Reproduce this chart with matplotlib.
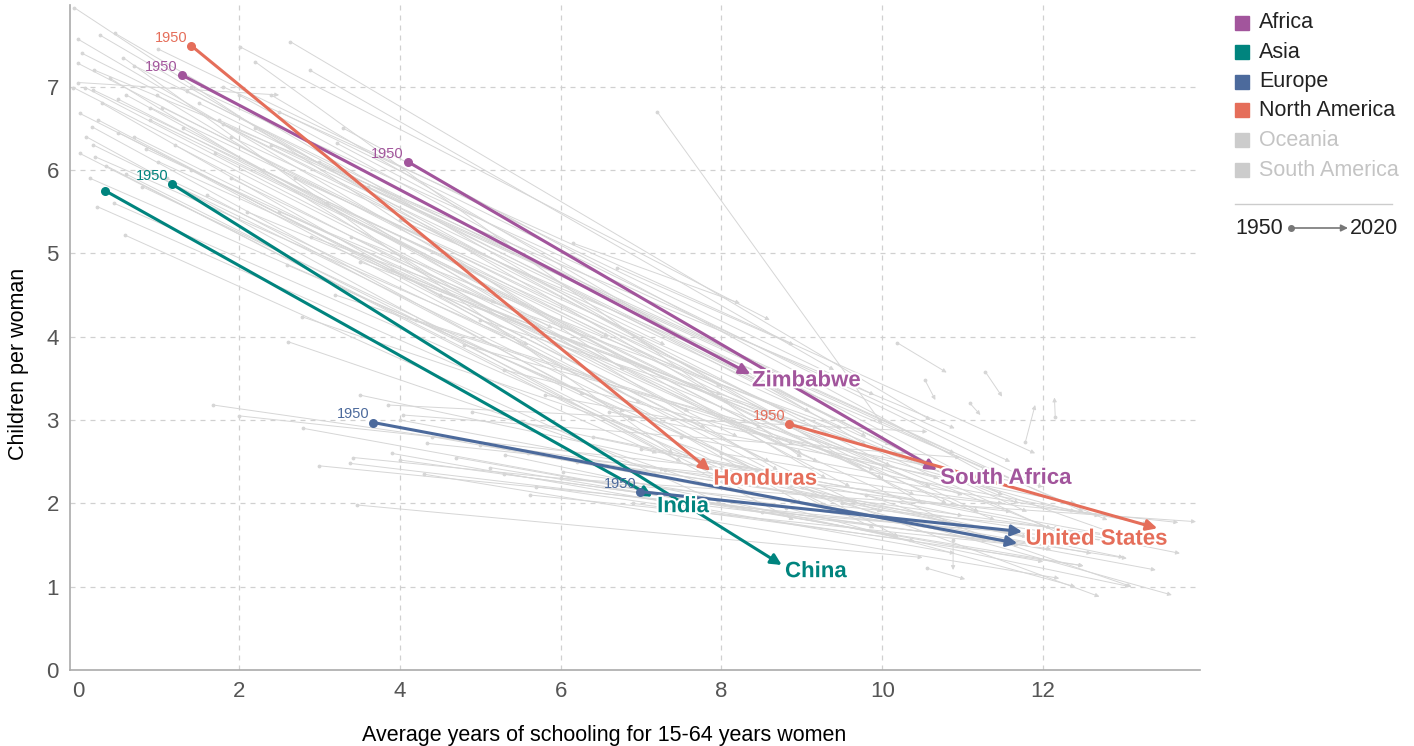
import matplotlib.pyplot as plt
import matplotlib.patheffects as pe
from matplotlib.patches import Rectangle

plt.rcParams['font.family'] = ['Liberation Sans', 'DejaVu Sans']

# background countries: 1950 (x0, y0) -> 2020 (x1, y1)
gray_x0 = [-0.05, 0.0, 0.27, 0.46, 0.56, 0.0, -0.06, 0.09, 0.19, 0.98,
           0.02, 0.25, 0.17, 0.02, 0.19, 0.21, 0.24, 0.58, 2.01, 2.64,
           2.88, 3.22, 2.6, 2.78, 2.61, 1.68, 3.42, 3.38, 7.2, 1.3,
           1.0, 1.5, 0.7, 1.9, 2.3, 1.1, 0.8, 1.6, 2.1, 0.4,
           0.6, 0.0, 2.5, 3.0, 3.6, 4.0, 2.9, 3.5, 4.5, 5.0,
           3.5, 4.0, 4.4, 5.0, 3.9, 4.7, 5.6, 6.2, 5.3, 3.0,
           6.0, 3.47, 2.0, 6.6, 7.5, 8.0, 6.9, 7.3, 8.5, 9.5,
           8.8, 9.0, 10.56, 9.8, 8.2, 7.8, 10.18, 10.53, 11.28, 11.09,
           11.78, 12.15, 6.16, 6.7, 10.88, 4.0, 4.34, 5.12, 6.03, 5.62,
           5.31, 3.85, 4.04, 1.4, 2.4, 0.9, 1.8, 3.3, 0.5, 2.2,
           0.3, 0.5, 0.9, 1.2, 1.4, 1.7, 2.0, 2.2, 0.1, 0.35,
           0.6, 0.85, 1.05, 1.35, 1.75, 2.4, 2.7, 3.1, 0.15, 0.45,
           1.9, 2.5, 3.4, 3.9, 4.2, 4.8, 5.3, 3.2, 0.05, 0.7,
           1.0, 1.8, 0.2, 5.8, 6.4, 4.3, 5.7, 7.0, 4.9, 2.8]
gray_y0 = [7.95, 7.57, 7.62, 7.64, 7.35, 7.28, 6.99, 6.99, 6.96, 6.9,
           6.68, 6.6, 6.52, 6.2, 6.3, 6.16, 5.56, 5.22, 7.48, 7.54,
           7.2, 6.32, 4.86, 4.24, 3.94, 3.18, 2.55, 2.48, 6.7, 6.5,
           6.1, 6.8, 6.4, 6.4, 6.0, 5.9, 5.8, 5.7, 5.5, 7.1,
           6.9, 7.05, 6.7, 6.1, 5.8, 5.4, 5.2, 4.9, 4.5, 4.2,
           3.3, 3.0, 2.8, 2.7, 2.6, 2.55, 2.6, 2.5, 2.35, 2.45,
           2.3, 1.98, 3.05, 3.1, 2.8, 2.6, 2.0, 2.4, 1.9, 2.0,
           1.95, 2.2, 1.22, 2.1, 2.3, 2.5, 3.93, 3.48, 3.58, 3.2,
           2.74, 3.04, 5.12, 4.83, 1.56, 2.52, 2.72, 2.43, 2.38, 2.1,
           2.58, 3.18, 3.06, 7.0, 6.9, 6.75, 6.55, 6.5, 6.85, 7.3,
           6.8, 6.45, 6.6, 6.3, 6.0, 6.2, 6.9, 6.5, 6.4, 6.05,
           5.95, 6.25, 6.75, 6.95, 6.6, 6.3, 5.9, 5.6, 5.9, 5.6,
           5.9, 5.5, 5.2, 4.8, 4.2, 3.9, 3.6, 4.5, 7.4, 7.25,
           7.45, 7.0, 7.2, 3.3, 2.8, 2.35, 2.2, 2.65, 3.1, 2.9]
gray_x1 = [6.8, 9.3, 8.1, 10.5, 7.4, 6.6, 5.2, 9.6, 11.2, 8.7,
           7.8, 10.2, 6.3, 8.4, 9.9, 5.6, 7.2, 8.0, 8.6, 10.6,
           9.4, 11.5, 9.0, 10.0, 7.9, 7.3, 12.2, 11.9, 10.0, 8.9,
           9.2, 10.3, 8.2, 11.0, 10.8, 9.7, 6.9, 8.3, 11.4, 7.0,
           5.9, 2.5, 12.0, 12.5, 10.9, 12.8, 9.5, 8.0, 13.0, 9.2,
           12.3, 11.8, 12.6, 13.1, 10.9, 12.0, 13.4, 12.9, 11.3, 10.4,
           13.9, 10.5, 9.2, 12.4, 13.3, 12.7, 10.4, 11.6, 12.9, 13.6,
           12.4, 12.7, 11.03, 13.1, 13.0, 11.5, 10.8, 10.66, 11.49, 11.22,
           11.9, 12.14, 8.23, 8.9, 10.88, 12.1, 13.68, 12.5, 13.04, 11.7,
           13.08, 10.56, 10.97, 11.59, 9.8, 8.8, 10.1, 11.3, 8.5, 9.0,
           9.0, 8.6, 10.0, 7.6, 9.4, 10.4, 9.8, 8.8, 7.5, 8.9,
           7.9, 11.0, 8.0, 9.1, 11.3, 10.1, 11.8, 12.3, 6.8, 8.5,
           9.0, 10.6, 11.7, 12.1, 11.0, 12.4, 10.7, 9.9, 7.3, 8.8,
           9.9, 11.9, 10.9, 12.0, 13.7, 12.2, 12.5, 13.5, 11.0, 10.2]
gray_y1 = [3.6, 2.3, 3.2, 2.0, 2.6, 4.0, 4.4, 2.2, 1.9, 2.4,
           2.9, 1.6, 3.3, 2.1, 1.7, 3.9, 2.6, 2.0, 4.2, 3.0,
           3.6, 2.1, 2.2, 1.9, 2.2, 2.4, 1.7, 1.5, 2.95, 2.7,
           2.5, 2.6, 2.8, 2.3, 2.0, 2.0, 3.0, 2.3, 1.8, 3.2,
           4.1, 6.9, 2.2, 1.9, 2.6, 1.8, 2.9, 3.3, 1.6, 2.9,
           1.5, 1.6, 1.4, 1.5, 1.4, 1.3, 1.2, 1.6, 1.55, 1.75,
           1.78, 1.35, 2.3, 2.0, 1.75, 1.85, 1.55, 1.9, 1.55, 0.9,
           1.0, 0.88, 1.09, 1.0, 1.35, 2.0, 3.57, 3.24, 3.28, 3.06,
           3.18, 3.27, 4.4, 3.9, 1.2, 1.45, 1.77, 1.25, 1.34, 1.5,
           1.0, 2.86, 2.55, 2.5, 2.7, 3.1, 2.45, 2.35, 2.9, 2.55,
           2.0, 2.5, 2.3, 3.1, 1.9, 2.1, 2.8, 3.0, 2.5, 1.8,
           2.4, 1.7, 3.4, 3.1, 2.4, 2.7, 1.9, 1.6, 3.1, 2.2,
           2.6, 2.2, 2.0, 1.7, 2.1, 1.9, 2.3, 2.4, 3.9, 3.4,
           3.3, 2.6, 2.9, 2.2, 1.4, 1.1, 1.25, 1.5, 1.85, 1.6]

# highlighted countries
hl_region = ['Africa', 'Africa', 'North America', 'North America',
             'Asia', 'Asia', 'Europe', 'Europe']
hl_label = ['Zimbabwe', 'South Africa', 'Honduras', 'United States',
            'India', 'China', '', '']
hl_x0 = [1.29, 4.10, 1.41, 8.84, 0.34, 1.17, 3.67, 6.99]
hl_y0 = [7.14, 6.10, 7.49, 2.95, 5.75, 5.83, 2.97, 2.14]
hl_x1 = [8.36, 10.68, 7.86, 13.42, 7.14, 8.75, 11.68, 11.74]
hl_y1 = [3.55, 2.40, 2.39, 1.70, 2.08, 1.26, 1.52, 1.66]
show_start = [True, True, True, True, False, True, True, True]
label_x = [8.38, 10.72, 7.90, 11.78, 7.20, 8.79]
label_y = [3.47, 2.30, 2.29, 1.57, 1.96, 1.18]

regions = ['Africa', 'Asia', 'Europe', 'North America', 'Oceania', 'South America']
colors = {'Africa': '#a2559c', 'Asia': '#00847e', 'Europe': '#4c6a9c',
          'North America': '#e56e5a', 'Oceania': '#cccccc', 'South America': '#cccccc'}

W, H = 1414, 746
fig = plt.figure(figsize=(W / 100, H / 100), dpi=100)
ax = fig.add_axes([70 / W, 76 / H, 1130 / W, 665 / H])
ax.set_xlim(-0.1, 13.95)
ax.set_ylim(0, 7.98)

ax.set_xticks(range(0, 13, 2))
ax.set_yticks(range(0, 8))
ax.tick_params(length=0, labelsize=16, labelcolor='#555555', pad=8)
for s in ['top', 'right']:
    ax.spines[s].set_visible(False)
for s in ['left', 'bottom']:
    ax.spines[s].set_color('#aaaaaa')
    ax.spines[s].set_linewidth(1.2)
for v in range(2, 13, 2):
    ax.axvline(v, color='#d0d0d0', lw=0.9, ls=(0, (4, 4)), zorder=0)
for v in range(1, 8):
    ax.axhline(v, color='#d0d0d0', lw=0.9, ls=(0, (4, 4)), zorder=0)

ax.set_xlabel('Average years of schooling for 15-64 years women', fontsize=15.5)
ax.xaxis.set_label_coords(0.473, -0.082)
ax.set_ylabel('Children per woman', fontsize=15.5)
ax.yaxis.set_label_coords(-0.036, 0.46)

# background arrows
for x0, y0, x1, y1 in zip(gray_x0, gray_y0, gray_x1, gray_y1):
    ax.annotate('', xy=(x1, y1), xytext=(x0, y0),
                arrowprops=dict(arrowstyle='-|>', color='#d6d6d6', lw=0.7,
                                mutation_scale=6, shrinkA=0, shrinkB=0),
                zorder=1)
ax.scatter(gray_x0, gray_y0, s=3, color='#d6d6d6', zorder=1)

halo = [pe.withStroke(linewidth=3, foreground='white')]
for i in range(len(hl_region)):
    c = colors[hl_region[i]]
    ax.annotate('', xy=(hl_x1[i], hl_y1[i]), xytext=(hl_x0[i], hl_y0[i]),
                arrowprops=dict(arrowstyle='-|>', color=c, lw=2.2,
                                mutation_scale=16, shrinkA=0, shrinkB=0),
                zorder=3)
    ax.scatter([hl_x0[i]], [hl_y0[i]], s=30, color=c, zorder=4)
    if show_start[i]:
        ax.annotate('1950', xy=(hl_x0[i], hl_y0[i]), xytext=(-4, 8),
                    textcoords='offset pixels', ha='right', va='center',
                    fontsize=10.5, color=c, zorder=5)

for i in range(len(label_x)):
    c = colors[hl_region[i]]
    ax.text(label_x[i], label_y[i], hl_label[i], color=c, fontsize=16,
            fontweight='bold', ha='left', va='center', zorder=6,
            path_effects=halo)

# legend
row_y = [23, 52, 82, 110, 140, 170]
for r, yy in zip(regions, row_y):
    fig.add_artist(Rectangle((1235 / W, (H - yy - 7) / H), 14 / W, 14 / H,
                             transform=fig.transFigure, color=colors[r]))
    tc = '#222222' if r not in ('Oceania', 'South America') else '#c4c4c4'
    fig.text(1259 / W, (H - yy) / H, r, fontsize=15.5, color=tc,
             ha='left', va='center')
fig.add_artist(plt.Line2D([1235 / W, 1392 / W], [(H - 204) / H] * 2,
                          transform=fig.transFigure, color='#cccccc', lw=1))
fig.text(1235 / W, (H - 228) / H, '1950', fontsize=15.5, color='#222222',
         ha='left', va='center')
fig.text(1398 / W, (H - 228) / H, '2020', fontsize=15.5, color='#222222',
         ha='right', va='center')
ax.annotate('', xy=(1348, H - 228), xytext=(1291, H - 228),
            xycoords='figure pixels', textcoords='figure pixels',
            arrowprops=dict(arrowstyle='-|>', color='#777777', lw=1.2,
                            mutation_scale=10, shrinkA=0, shrinkB=0),
            annotation_clip=False)
fig.add_artist(plt.Line2D([1291 / W], [(H - 228) / H], marker='o',
                          markersize=4, color='#777777',
                          transform=fig.transFigure))

fig.savefig('out.png', dpi=100)
